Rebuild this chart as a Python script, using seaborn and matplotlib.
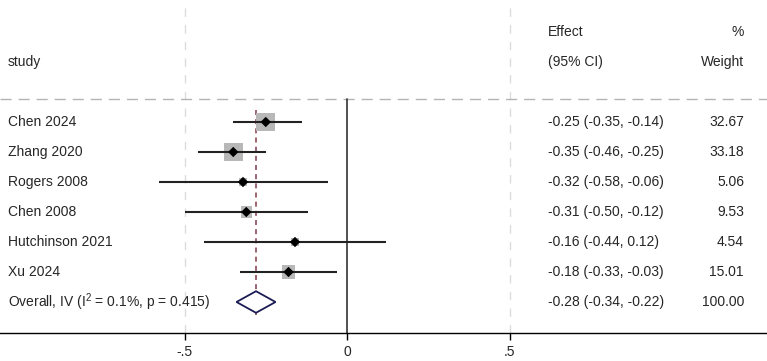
import matplotlib
matplotlib.use("Agg")
import matplotlib.pyplot as plt
import seaborn as sns
import pandas as pd

# forest plot data
studies = ["Chen 2024", "Zhang 2020", "Rogers 2008", "Chen 2008", "Hutchinson 2021", "Xu 2024"]
effect = [-0.25, -0.35, -0.32, -0.31, -0.16, -0.18]
lower = [-0.35, -0.46, -0.58, -0.50, -0.44, -0.33]
upper = [-0.14, -0.25, -0.06, -0.12, 0.12, -0.03]
weight = [32.67, 33.18, 5.06, 9.53, 4.54, 15.01]
overall_label = "Overall, IV (I$^{2}$ = 0.1%, p = 0.415)"
overall = [-0.28, -0.34, -0.22]  # est, lo, hi
overall_weight = "100.00"
xticks = [-0.5, 0, 0.5]
xtick_labels = ["-.5", "0", ".5"]

sns.set_style("white")
plt.rcParams["font.family"] = ["Liberation Sans", "DejaVu Sans"]
plt.rcParams["mathtext.fontset"] = "custom"
plt.rcParams["mathtext.rm"] = "Liberation Sans"

df = pd.DataFrame({"study": studies, "effect": effect, "lower": lower,
                   "upper": upper, "weight": weight})
df["row"] = range(len(df))
n = len(df)

fig = plt.figure(figsize=(7.67, 3.61), dpi=100)
ax = fig.add_axes([0, 0.0776, 1, 0.9224])
ax.set_xlim(-1.0677, 1.2923)
ax.set_ylim(7.033, -4.067)

# reference lines
for xv in [-0.5, 0.5]:
    ax.axvline(xv, color="#dcdcdc", lw=1, ls=(0, (6, 6)), zorder=0)
ax.axhline(-0.767, color="#b4b4b4", lw=1, ls=(0, (8, 5)), zorder=1)
ax.plot([0, 0], [-0.767, 7.033], color="#333333", lw=1.2, zorder=2)
ax.plot([overall[0], overall[0]], [-0.4, 6.45], color="#8b4a57", lw=1.2,
        ls=(0, (3, 2.5)), zorder=2)

# weight boxes
sns.scatterplot(data=df, x="effect", y="row", s=df["weight"] * 5.2 + 14,
                marker="s", color="#b8b8b8", edgecolor="none", linewidth=0,
                ax=ax, zorder=3, legend=False)
# confidence intervals
ax.hlines(df["row"], df["lower"], df["upper"], color="#222222", lw=1.5, zorder=4)
sns.scatterplot(data=df, x="effect", y="row", s=28, marker="D", color="black",
                edgecolor="none", ax=ax, zorder=5, legend=False)

# overall diamond
oy = n
dx = [overall[1], overall[0], overall[2], overall[0], overall[1]]
dy = [oy, oy - 0.36, oy, oy + 0.36, oy]
ax.fill(dx, dy, facecolor="white", edgecolor="#1c1c55", lw=1.3, zorder=5)

# text columns
fs = 10
xl, xe, xw = -1.043, 0.618, 1.2215
ax.text(xl, -2, "study", fontsize=fs, va="center", ha="left")
ax.text(xe, -3, "Effect", fontsize=fs, va="center", ha="left")
ax.text(xe, -2, "(95% CI)", fontsize=fs, va="center", ha="left")
ax.text(xw, -3, "%", fontsize=fs, va="center", ha="right")
ax.text(xw, -2, "Weight", fontsize=fs, va="center", ha="right")
for i, r in df.iterrows():
    ax.text(xl, r["row"], r["study"], fontsize=fs, va="center", ha="left")
    ax.text(xe, r["row"], f"{r['effect']:.2f} ({r['lower']:.2f}, {r['upper']:.2f})",
            fontsize=fs, va="center", ha="left")
    ax.text(xw, r["row"], f"{r['weight']:.2f}", fontsize=fs, va="center", ha="right")
ax.text(xl, oy, overall_label, fontsize=fs, va="center", ha="left")
ax.text(xe, oy, f"{overall[0]:.2f} ({overall[1]:.2f}, {overall[2]:.2f})",
        fontsize=fs, va="center", ha="left")
ax.text(xw, oy, overall_weight, fontsize=fs, va="center", ha="right")

# axis styling
for side in ["top", "left", "right"]:
    ax.spines[side].set_visible(False)
ax.spines["bottom"].set_color("black")
ax.spines["bottom"].set_linewidth(1)
ax.set_yticks([])
ax.set_xticks(xticks)
ax.set_xticklabels(xtick_labels, fontsize=fs)
ax.tick_params(axis="x", direction="out", length=5, width=1, color="black", pad=4,
               bottom=True)
ax.set_xlabel("")
ax.set_ylabel("")

fig.savefig("out.png", dpi=100, facecolor="white")
